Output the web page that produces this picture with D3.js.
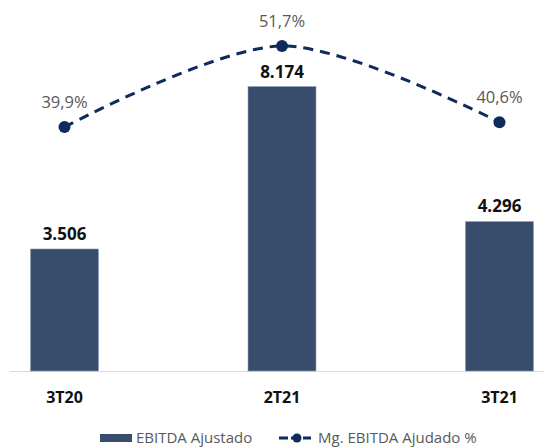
<!DOCTYPE html>
<html>
<head>
<meta charset="utf-8">
<script src="https://cdn.jsdelivr.net/npm/d3@7"></script>
<style>
  body { margin: 0; background: #fff; }
  svg text { font-family: "Open Sans", "Liberation Sans", sans-serif; }
</style>
</head>
<body>
<svg id="chart" width="544" height="447"></svg>
<script>
var categories = ["3T20", "2T21", "3T21"];
var ebitda = [3506, 8174, 4296];
var ebitdaLabels = ["3.506", "8.174", "4.296"];
var margin = [39.9, 51.7, 40.6];
var marginLabels = ["39,9%", "51,7%", "40,6%"];

var svg = d3.select("#chart");

var x = d3.scalePoint().domain(categories).range([64.5, 499.5]);
var y = d3.scaleLinear().domain([0, 10000]).range([371, 23]);
var y2 = d3.scaleLinear().domain([30, 55]).range([195, 23.3]);
var barW = 68;

// baseline
svg.append("line")
   .attr("x1", 10).attr("x2", 544)
   .attr("y1", 371.5).attr("y2", 371.5)
   .attr("stroke", "#d9d9d9").attr("stroke-width", 1);

svg.selectAll("rect.bar")
   .data(ebitda)
   .enter().append("rect")
   .attr("class", "bar")
   .attr("x", function(d, i) { return x(categories[i]) - barW / 2; })
   .attr("y", function(d) { return y(d); })
   .attr("width", barW)
   .attr("height", function(d) { return y(0) - y(d); })
   .attr("fill", "#384d6c")
   .attr("stroke", "#8fa1bb")
   .attr("stroke-width", 0.6);

svg.selectAll("text.val")
   .data(ebitda)
   .enter().append("text")
   .attr("class", "val")
   .attr("x", function(d, i) { return x(categories[i]); })
   .attr("y", function(d) { return y(d) - 9; })
   .attr("text-anchor", "middle")
   .attr("font-size", 17)
   .attr("font-weight", "bold")
   .attr("fill", "#111")
   .text(function(d, i) { return ebitdaLabels[i]; });

// category labels
svg.selectAll("text.cat")
   .data(categories)
   .enter().append("text")
   .attr("class", "cat")
   .attr("x", function(d) { return x(d); })
   .attr("y", 403)
   .attr("text-anchor", "middle")
   .attr("font-size", 16)
   .attr("font-weight", "bold")
   .attr("fill", "#111")
   .text(function(d) { return d; });

var line = d3.line()
   .x(function(d, i) { return x(categories[i]); })
   .y(function(d) { return y2(d); })
   .curve(d3.curveCardinal.tension(0.1));

svg.append("path")
   .datum(margin)
   .attr("d", line)
   .attr("fill", "none")
   .attr("stroke", "#0e2b5c")
   .attr("stroke-width", 3)
   .attr("stroke-dasharray", "10,7");

svg.selectAll("circle.pt")
   .data(margin)
   .enter().append("circle")
   .attr("class", "pt")
   .attr("cx", function(d, i) { return x(categories[i]); })
   .attr("cy", function(d) { return y2(d); })
   .attr("r", 6)
   .attr("fill", "#0e2b5c");

svg.selectAll("text.pct")
   .data(margin)
   .enter().append("text")
   .attr("class", "pct")
   .attr("x", function(d, i) { return x(categories[i]); })
   .attr("y", function(d) { return y2(d) - 19; })
   .attr("text-anchor", "middle")
   .attr("font-size", 16.5)
   .attr("fill", "#595959")
   .text(function(d, i) { return marginLabels[i]; });

// legend
var leg = svg.append("g").attr("transform", "translate(0,438)");
leg.append("rect").attr("x", 100).attr("y", -4).attr("width", 32).attr("height", 8).attr("fill", "#384d6c");
leg.append("text").attr("x", 136).attr("y", 5).attr("font-size", 15).attr("fill", "#595959").text("EBITDA Ajustado");
leg.append("line").attr("x1", 279).attr("x2", 311).attr("y1", 0).attr("y2", 0)
   .attr("stroke", "#0e2b5c").attr("stroke-width", 3).attr("stroke-dasharray", "9,3");
leg.append("circle").attr("cx", 297).attr("cy", 0).attr("r", 4.5).attr("fill", "#0e2b5c");
leg.append("text").attr("x", 318).attr("y", 5).attr("font-size", 15).attr("fill", "#595959").text("Mg. EBITDA Ajudado %");
</script>
</body>
</html>
